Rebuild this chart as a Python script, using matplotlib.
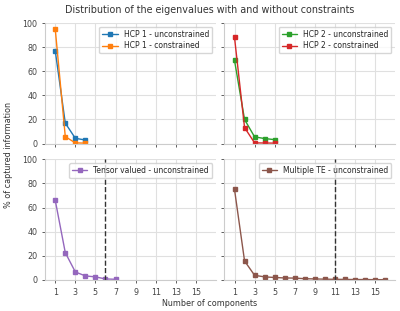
import matplotlib.pyplot as plt
import seaborn as sns

sns.set_style("whitegrid")

hcp1_unc = [77, 17, 4.4, 3.0]
hcp1_con = [95, 5.8, 0.6, 0.4]
hcp2_unc = [69, 20, 5.6, 4.2, 3.3]
hcp2_con = [88, 13.3, 0.6, 0.5, 0.4]
tensor_unc = [66, 22.6, 6.6, 3.3, 2.5, 0.8, 0.5]
multi_te_unc = [75, 15.7, 3.8, 2.5, 2.0, 1.6, 1.5, 1.0, 0.8, 0.6, 0.5, 0.4, 0.3, 0.3, 0.2, 0.2]
tensor_cut = 6
multi_te_cut = 11

fig, axes = plt.subplots(2, 2, figsize=(4, 3.11), dpi=100, sharex=True, sharey=True)
fig.subplots_adjust(left=0.113, right=0.988, top=0.926, bottom=0.1, wspace=0.05, hspace=0.13)


def plot_line(ax, values, label, color):
    x = range(1, len(values) + 1)
    ax.plot(x, values, marker="s", markersize=3.2, linewidth=1, color=color, label=label)


plot_line(axes[0, 0], hcp1_unc, "HCP 1 - unconstrained", "tab:blue")
plot_line(axes[0, 0], hcp1_con, "HCP 1 - constrained", "tab:orange")
plot_line(axes[0, 1], hcp2_unc, "HCP 2 - unconstrained", "tab:green")
plot_line(axes[0, 1], hcp2_con, "HCP 2 - constrained", "tab:red")
plot_line(axes[1, 0], tensor_unc, "Tensor valued - unconstrained", "tab:purple")
plot_line(axes[1, 1], multi_te_unc, "Multiple TE - unconstrained", "tab:brown")

axes[1, 0].axvline(tensor_cut, color="#333333", linestyle="--", linewidth=1)
axes[1, 1].axvline(multi_te_cut, color="#333333", linestyle="--", linewidth=1)

for ax in axes.flat:
    ax.set_xlim(0, 17)
    ax.set_ylim(0, 100)
    ax.set_xticks(range(1, 17, 2))
    ax.set_yticks(range(0, 101, 20))
    ax.tick_params(labelsize=5.8, colors="#444444", length=2, width=0.6, left=True, bottom=True)
    ax.legend(loc="upper right", fontsize=5.5, handlelength=2, borderpad=0.4, labelspacing=0.3)
    for s in ["top", "right"]:
        ax.spines[s].set_visible(False)
    for s in ["left", "bottom"]:
        ax.spines[s].set_color("#cccccc")
        ax.spines[s].set_linewidth(0.8)
    ax.grid(color="#e0e0e0", linewidth=0.8)

fig.suptitle("Distribution of the eigenvalues with and without constraints",
             fontsize=6.9, color="#333333", x=0.525, y=0.985)
fig.supxlabel("Number of components", fontsize=5.8, color="#333333", x=0.525, y=0.01)
fig.supylabel("% of captured information", fontsize=5.8, color="#333333", x=0.01)

plt.savefig("out.png", dpi=100)
